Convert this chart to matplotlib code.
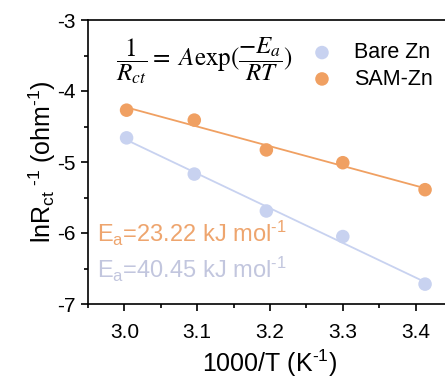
import numpy as np
import matplotlib
matplotlib.use('Agg')
import matplotlib.pyplot as plt

plt.rcParams['font.family'] = ['Liberation Sans', 'DejaVu Sans']
plt.rcParams['mathtext.fontset'] = 'custom'
plt.rcParams['mathtext.rm'] = 'Liberation Sans'
plt.rcParams['mathtext.it'] = 'Liberation Sans:italic'
plt.rcParams['axes.unicode_minus'] = False

# 1000/T values
inv_t = [3.003, 3.096, 3.195, 3.300, 3.413]
bare_zn = [-4.66, -5.17, -5.69, -6.05, -6.72]
sam_zn = [-4.27, -4.41, -4.83, -5.01, -5.39]
ea_labels = [r'E$_\mathrm{a}$=23.22 kJ mol$^{\text{-1}}$',
             r'E$_\mathrm{a}$=40.45 kJ mol$^{\text{-1}}$']

bare_col = '#c8d2f0'
sam_col = '#f0a062'

fig = plt.figure(figsize=(4.45, 3.8), dpi=100)
ax = fig.add_axes([88 / 445, 76 / 380, 364 / 445, 284 / 380])

x = np.array(inv_t)
for y, col, lab in [(bare_zn, bare_col, 'Bare Zn'), (sam_zn, sam_col, 'SAM-Zn')]:
    k, b = np.polyfit(x, y, 1)
    ax.plot(x, k * x + b, color=col, lw=1.3, zorder=2)
    ax.scatter(x, y, s=95, color=col, edgecolors='none', label=lab, zorder=3)

ax.set_xlim(2.95, 3.45)
ax.set_ylim(-7, -3)
ax.set_xticks([3.0, 3.1, 3.2, 3.3, 3.4])
ax.set_xticks(np.arange(2.95, 3.46, 0.05), minor=True)
ax.set_yticks([-7, -6, -5, -4, -3])
ax.set_yticks(np.arange(-7, -2.9, 0.5), minor=True)
ax.tick_params(which='major', direction='out', length=5, width=1.2, labelsize=15, pad=4)
ax.tick_params(axis='x', which='major', pad=9)
ax.tick_params(which='minor', direction='out', length=3, width=1.2)
for s in ax.spines.values():
    s.set_linewidth(1.2)

ax.set_xlabel(r'1000/T (K$^{\text{-1}}$)', fontsize=18, labelpad=4)
ax.set_ylabel(r'lnR$_{\mathrm{ct}}$$^{\text{ -1}}$ (ohm$^{\text{-1}}$)', fontsize=18, labelpad=-1)

ax.text(0.32, 0.855, r'$\dfrac{1}{R_{ct}} = \ A\exp(\dfrac{-E_a}{RT})$',
        transform=ax.transAxes, ha='center', va='center', fontsize=18,
        math_fontfamily='stix')

ax.text(0.025, 0.25, ea_labels[0], transform=ax.transAxes, color='#eea56e',
        fontsize=17, va='center')
ax.text(0.025, 0.12, ea_labels[1], transform=ax.transAxes, color='#c2c6de',
        fontsize=17, va='center')

ax.legend(loc='upper left', bbox_to_anchor=(0.56, 0.99), frameon=False,
          fontsize=15.5, handletextpad=1.0, labelspacing=0.25, handlelength=1.0)

fig.savefig('out.png', dpi=100)
